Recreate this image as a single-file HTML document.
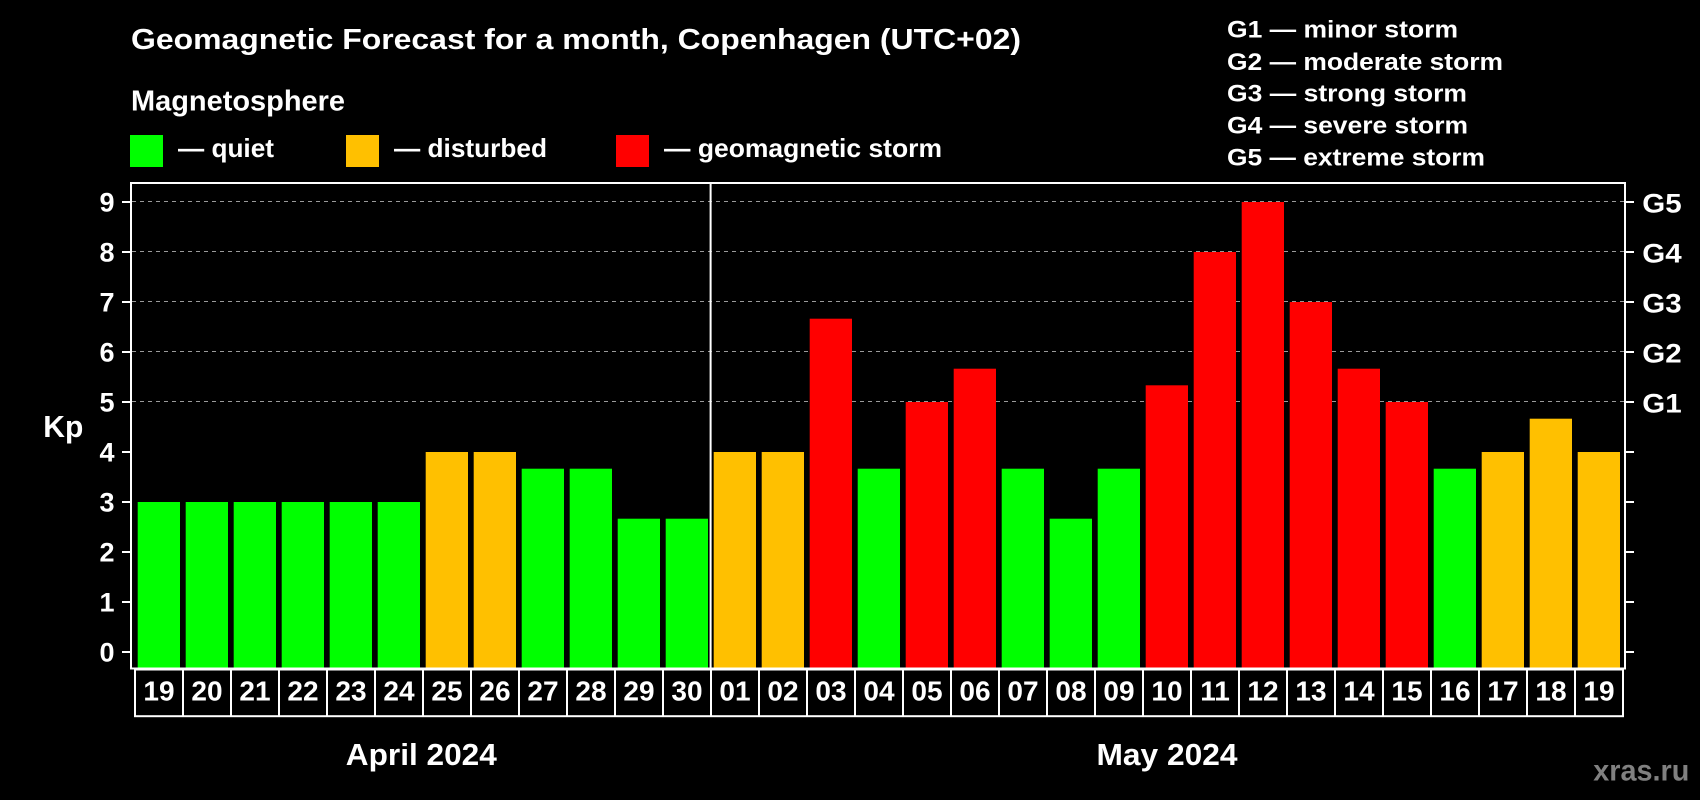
<!DOCTYPE html>
<html><head><meta charset="utf-8"><style>
html,body{margin:0;padding:0;background:#000;}
svg{display:block;}
text{font-family:"Liberation Sans",Arial,sans-serif;font-weight:bold;fill:#fff;}
</style></head><body>
<svg width="1700" height="800" viewBox="0 0 1700 800" xmlns="http://www.w3.org/2000/svg">
<rect x="0" y="0" width="1700" height="800" fill="#000"/>
<!-- Title / legend -->
<text x="131" y="49" font-size="29" textLength="890" lengthAdjust="spacingAndGlyphs">Geomagnetic Forecast for a month, Copenhagen (UTC+02)</text>
<text x="131" y="110.5" font-size="29" textLength="214" lengthAdjust="spacingAndGlyphs">Magnetosphere</text>
<rect x="130" y="135" width="33" height="32" fill="#00ff00"/>
<text x="178" y="157" font-size="26" textLength="96" lengthAdjust="spacingAndGlyphs">— quiet</text>
<rect x="346" y="135" width="33" height="32" fill="#ffc000"/>
<text x="394" y="157" font-size="26" textLength="153" lengthAdjust="spacingAndGlyphs">— disturbed</text>
<rect x="616" y="135" width="33" height="32" fill="#ff0000"/>
<text x="664" y="157" font-size="26" textLength="278" lengthAdjust="spacingAndGlyphs">— geomagnetic storm</text>

<text x="1227" y="37.7" font-size="24" textLength="231" lengthAdjust="spacingAndGlyphs">G1 — minor storm</text>
<text x="1227" y="70" font-size="24" textLength="276" lengthAdjust="spacingAndGlyphs">G2 — moderate storm</text>
<text x="1227" y="101.7" font-size="24" textLength="240" lengthAdjust="spacingAndGlyphs">G3 — strong storm</text>
<text x="1227" y="133.3" font-size="24" textLength="241" lengthAdjust="spacingAndGlyphs">G4 — severe storm</text>
<text x="1227" y="165.7" font-size="24" textLength="258" lengthAdjust="spacingAndGlyphs">G5 — extreme storm</text>

<!-- grid lines -->
<g stroke="#9a9a9a" stroke-width="1" stroke-dasharray="4 4">
<line x1="132" y1="201.5" x2="1624" y2="201.5"/>
<line x1="132" y1="251.5" x2="1624" y2="251.5"/>
<line x1="132" y1="301.5" x2="1624" y2="301.5"/>
<line x1="132" y1="351.5" x2="1624" y2="351.5"/>
<line x1="132" y1="401.5" x2="1624" y2="401.5"/>
</g>

<!-- bars -->
<g>
<rect x="137.7" y="502" width="42.3" height="166" fill="#00ff00"/>
<rect x="185.7" y="502" width="42.3" height="166" fill="#00ff00"/>
<rect x="233.7" y="502" width="42.3" height="166" fill="#00ff00"/>
<rect x="281.7" y="502" width="42.3" height="166" fill="#00ff00"/>
<rect x="329.7" y="502" width="42.3" height="166" fill="#00ff00"/>
<rect x="377.7" y="502" width="42.3" height="166" fill="#00ff00"/>
<rect x="425.7" y="452" width="42.3" height="216" fill="#ffc000"/>
<rect x="473.7" y="452" width="42.3" height="216" fill="#ffc000"/>
<rect x="521.7" y="468.7" width="42.3" height="199.3" fill="#00ff00"/>
<rect x="569.7" y="468.7" width="42.3" height="199.3" fill="#00ff00"/>
<rect x="617.7" y="518.7" width="42.3" height="149.3" fill="#00ff00"/>
<rect x="665.7" y="518.7" width="42.3" height="149.3" fill="#00ff00"/>
<rect x="713.7" y="452" width="42.3" height="216" fill="#ffc000"/>
<rect x="761.7" y="452" width="42.3" height="216" fill="#ffc000"/>
<rect x="809.7" y="318.7" width="42.3" height="349.3" fill="#ff0000"/>
<rect x="857.7" y="468.7" width="42.3" height="199.3" fill="#00ff00"/>
<rect x="905.7" y="402" width="42.3" height="266" fill="#ff0000"/>
<rect x="953.7" y="368.7" width="42.3" height="299.3" fill="#ff0000"/>
<rect x="1001.7" y="468.7" width="42.3" height="199.3" fill="#00ff00"/>
<rect x="1049.7" y="518.7" width="42.3" height="149.3" fill="#00ff00"/>
<rect x="1097.7" y="468.7" width="42.3" height="199.3" fill="#00ff00"/>
<rect x="1145.7" y="385.3" width="42.3" height="282.7" fill="#ff0000"/>
<rect x="1193.7" y="252" width="42.3" height="416" fill="#ff0000"/>
<rect x="1241.7" y="202" width="42.3" height="466" fill="#ff0000"/>
<rect x="1289.7" y="302" width="42.3" height="366" fill="#ff0000"/>
<rect x="1337.7" y="368.7" width="42.3" height="299.3" fill="#ff0000"/>
<rect x="1385.7" y="402" width="42.3" height="266" fill="#ff0000"/>
<rect x="1433.7" y="468.7" width="42.3" height="199.3" fill="#00ff00"/>
<rect x="1481.7" y="452" width="42.3" height="216" fill="#ffc000"/>
<rect x="1529.7" y="418.7" width="42.3" height="249.3" fill="#ffc000"/>
<rect x="1577.7" y="452" width="42.3" height="216" fill="#ffc000"/>
</g>

<!-- plot frame -->
<g stroke="#fff" stroke-width="2" fill="none">
<rect x="131" y="183" width="1494" height="485.5"/>
<line x1="710.6" y1="183" x2="710.6" y2="668"/>
<!-- left ticks -->
<line x1="122" y1="652" x2="131" y2="652"/>
<line x1="122" y1="602" x2="131" y2="602"/>
<line x1="122" y1="552" x2="131" y2="552"/>
<line x1="122" y1="502" x2="131" y2="502"/>
<line x1="122" y1="452" x2="131" y2="452"/>
<line x1="122" y1="402" x2="131" y2="402"/>
<line x1="122" y1="352" x2="131" y2="352"/>
<line x1="122" y1="302" x2="131" y2="302"/>
<line x1="122" y1="252" x2="131" y2="252"/>
<line x1="122" y1="202" x2="131" y2="202"/>
<!-- right ticks -->
<line x1="1625" y1="652" x2="1634" y2="652"/>
<line x1="1625" y1="602" x2="1634" y2="602"/>
<line x1="1625" y1="552" x2="1634" y2="552"/>
<line x1="1625" y1="502" x2="1634" y2="502"/>
<line x1="1625" y1="452" x2="1634" y2="452"/>
<line x1="1625" y1="402" x2="1634" y2="402"/>
<line x1="1625" y1="352" x2="1634" y2="352"/>
<line x1="1625" y1="302" x2="1634" y2="302"/>
<line x1="1625" y1="252" x2="1634" y2="252"/>
<line x1="1625" y1="202" x2="1634" y2="202"/>
<!-- day boxes -->
<rect x="135" y="669.5" width="1488" height="46.7"/>
<line x1="183" y1="669.5" x2="183" y2="716.2"/>
<line x1="231" y1="669.5" x2="231" y2="716.2"/>
<line x1="279" y1="669.5" x2="279" y2="716.2"/>
<line x1="327" y1="669.5" x2="327" y2="716.2"/>
<line x1="375" y1="669.5" x2="375" y2="716.2"/>
<line x1="423" y1="669.5" x2="423" y2="716.2"/>
<line x1="471" y1="669.5" x2="471" y2="716.2"/>
<line x1="519" y1="669.5" x2="519" y2="716.2"/>
<line x1="567" y1="669.5" x2="567" y2="716.2"/>
<line x1="615" y1="669.5" x2="615" y2="716.2"/>
<line x1="663" y1="669.5" x2="663" y2="716.2"/>
<line x1="711" y1="669.5" x2="711" y2="716.2"/>
<line x1="759" y1="669.5" x2="759" y2="716.2"/>
<line x1="807" y1="669.5" x2="807" y2="716.2"/>
<line x1="855" y1="669.5" x2="855" y2="716.2"/>
<line x1="903" y1="669.5" x2="903" y2="716.2"/>
<line x1="951" y1="669.5" x2="951" y2="716.2"/>
<line x1="999" y1="669.5" x2="999" y2="716.2"/>
<line x1="1047" y1="669.5" x2="1047" y2="716.2"/>
<line x1="1095" y1="669.5" x2="1095" y2="716.2"/>
<line x1="1143" y1="669.5" x2="1143" y2="716.2"/>
<line x1="1191" y1="669.5" x2="1191" y2="716.2"/>
<line x1="1239" y1="669.5" x2="1239" y2="716.2"/>
<line x1="1287" y1="669.5" x2="1287" y2="716.2"/>
<line x1="1335" y1="669.5" x2="1335" y2="716.2"/>
<line x1="1383" y1="669.5" x2="1383" y2="716.2"/>
<line x1="1431" y1="669.5" x2="1431" y2="716.2"/>
<line x1="1479" y1="669.5" x2="1479" y2="716.2"/>
<line x1="1527" y1="669.5" x2="1527" y2="716.2"/>
<line x1="1575" y1="669.5" x2="1575" y2="716.2"/>
</g>

<!-- y labels -->
<g font-size="27" text-anchor="end">
<text x="114.5" y="661.5">0</text>
<text x="114.5" y="611.5">1</text>
<text x="114.5" y="561.5">2</text>
<text x="114.5" y="511.5">3</text>
<text x="114.5" y="461.5">4</text>
<text x="114.5" y="411.5">5</text>
<text x="114.5" y="361.5">6</text>
<text x="114.5" y="311.5">7</text>
<text x="114.5" y="261.5">8</text>
<text x="114.5" y="211.5">9</text>
</g>
<text x="43.3" y="437" font-size="31" textLength="40" lengthAdjust="spacingAndGlyphs">Kp</text>

<!-- G labels -->
<g font-size="26.5">
<text x="1642.3" y="212.3" textLength="39.4" lengthAdjust="spacingAndGlyphs">G5</text>
<text x="1642.3" y="262.3" textLength="39.4" lengthAdjust="spacingAndGlyphs">G4</text>
<text x="1642.3" y="312.3" textLength="39.4" lengthAdjust="spacingAndGlyphs">G3</text>
<text x="1642.3" y="362.3" textLength="39.4" lengthAdjust="spacingAndGlyphs">G2</text>
<text x="1642.3" y="412.3" textLength="39.4" lengthAdjust="spacingAndGlyphs">G1</text>
</g>

<!-- day labels -->
<g font-size="28" text-anchor="middle">
<text x="159" y="700.5">19</text>
<text x="207" y="700.5">20</text>
<text x="255" y="700.5">21</text>
<text x="303" y="700.5">22</text>
<text x="351" y="700.5">23</text>
<text x="399" y="700.5">24</text>
<text x="447" y="700.5">25</text>
<text x="495" y="700.5">26</text>
<text x="543" y="700.5">27</text>
<text x="591" y="700.5">28</text>
<text x="639" y="700.5">29</text>
<text x="687" y="700.5">30</text>
<text x="735" y="700.5">01</text>
<text x="783" y="700.5">02</text>
<text x="831" y="700.5">03</text>
<text x="879" y="700.5">04</text>
<text x="927" y="700.5">05</text>
<text x="975" y="700.5">06</text>
<text x="1023" y="700.5">07</text>
<text x="1071" y="700.5">08</text>
<text x="1119" y="700.5">09</text>
<text x="1167" y="700.5">10</text>
<text x="1215" y="700.5">11</text>
<text x="1263" y="700.5">12</text>
<text x="1311" y="700.5">13</text>
<text x="1359" y="700.5">14</text>
<text x="1407" y="700.5">15</text>
<text x="1455" y="700.5">16</text>
<text x="1503" y="700.5">17</text>
<text x="1551" y="700.5">18</text>
<text x="1599" y="700.5">19</text>
</g>

<!-- month labels -->
<text x="345.8" y="765" font-size="31" textLength="151" lengthAdjust="spacingAndGlyphs">April 2024</text>
<text x="1096.5" y="765" font-size="31" textLength="141" lengthAdjust="spacingAndGlyphs">May 2024</text>

<text x="1593.3" y="780.7" font-size="30" fill="#808080" style="fill:#808080" textLength="96" lengthAdjust="spacingAndGlyphs">xras.ru</text>
</svg>
</body></html>
